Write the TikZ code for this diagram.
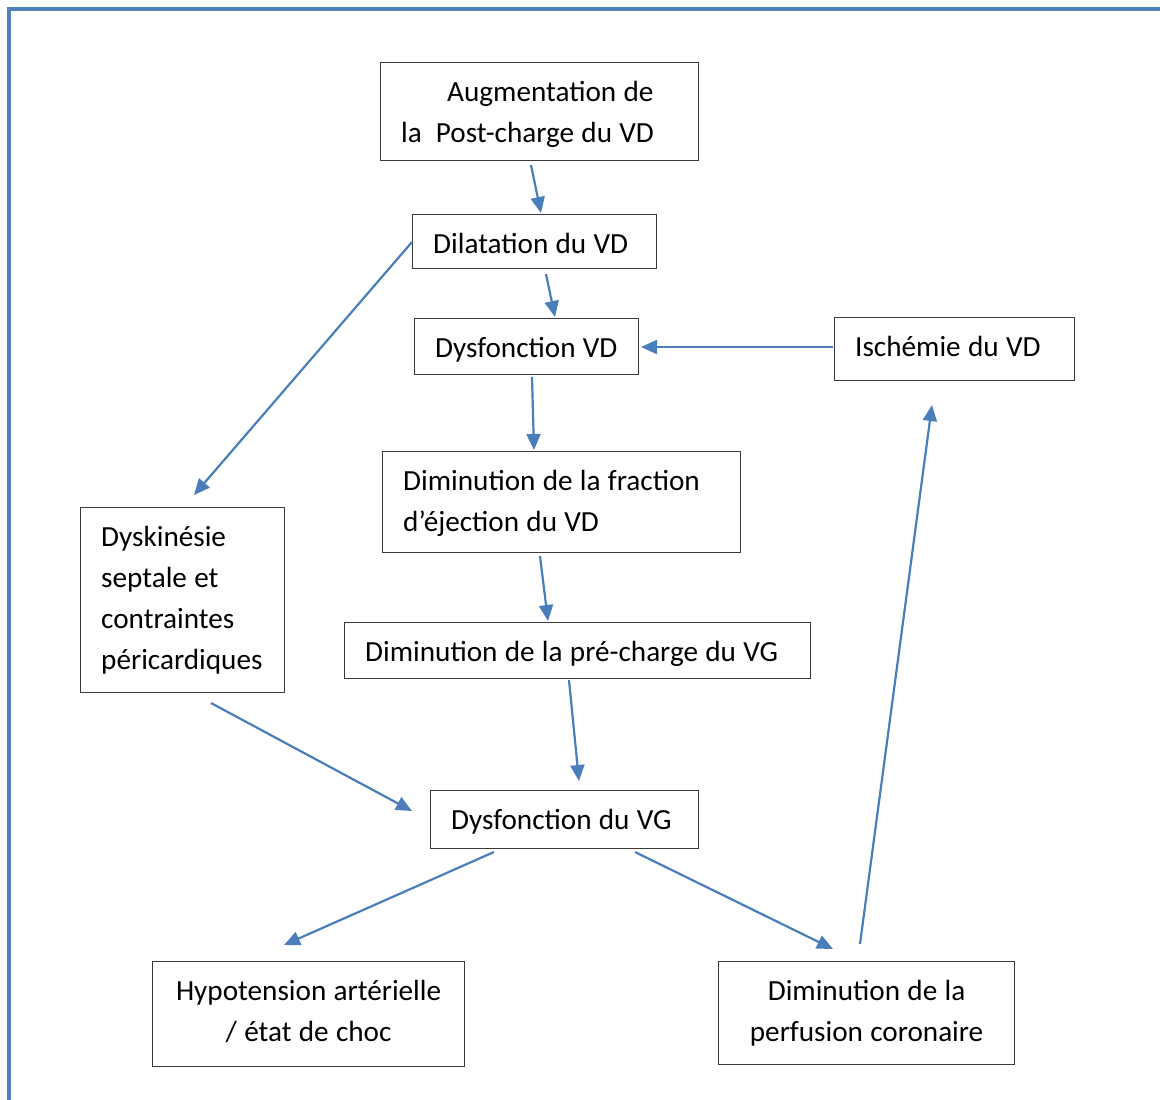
\documentclass[tikz,border=0pt]{standalone}
\usepackage{fontspec}
\setmainfont{Carlito}
\usetikzlibrary{arrows.meta}
\definecolor{frameblue}{HTML}{4F81BD}
\definecolor{arrblue}{HTML}{4A7EBB}
\definecolor{boxgray}{HTML}{3A3A3A}
\newcommand\boxtextfont{\fontsize{29.2}{41}\selectfont\spaceskip=7.3pt\relax}
\begin{document}
\begin{tikzpicture}[x=1pt,y=-1pt,
  box/.style={draw=boxgray, line width=1.2pt, inner sep=0pt, anchor=north west},
  txt/.style={inner sep=0pt, anchor=north west, align=left, font=\boxtextfont},
  ctxt/.style={txt, anchor=north, align=center},
  arr/.style={draw=arrblue, line width=2.2pt, -{Triangle[length=16pt,width=14pt]}}]
\useasboundingbox (0,0) rectangle (1160,1100);
% frame
\draw[frameblue, line width=3.2pt] (9,1102) -- (9,9) -- (1162,9);
% boxes
\node[box, minimum width=318pt, minimum height=98pt] (aug) at (380,62) {};
\node[box, minimum width=244pt, minimum height=54pt] (dil) at (412,214) {};
\node[box, minimum width=224pt, minimum height=56pt] (dysvd) at (414,318) {};
\node[box, minimum width=240pt, minimum height=63pt] (isch) at (834,317) {};
\node[box, minimum width=358pt, minimum height=101pt] (fe) at (382,451) {};
\node[box, minimum width=204pt, minimum height=185pt] (dysk) at (80,507) {};
\node[box, minimum width=466pt, minimum height=56pt] (prech) at (344,622) {};
\node[box, minimum width=268pt, minimum height=58pt] (dysvg) at (430,790) {};
\node[box, minimum width=312pt, minimum height=105pt] (hypo) at (152,961) {};
\node[box, minimum width=296pt, minimum height=103pt] (perf) at (718,961) {};
% texts
\node[txt] (aug-t) at ([shift={(21,10.3)}]aug.north west)
  {\strut\hspace*{46pt}Augmentation de\\la\hspace*{14pt}Post-charge du VD};
\node[txt] (dil-t) at ([shift={(21,10.3)}]dil.north west) {\strut Dilatation du VD};
\node[txt] (dysvd-t) at ([shift={(21,10.3)}]dysvd.north west) {\strut Dysfonction VD};
\node[txt] (isch-t) at ([shift={(21,10.3)}]isch.north west) {\strut Ischémie du VD};
\node[txt] (fe-t) at ([shift={(21,10.3)}]fe.north west)
  {\strut Diminution de la fraction\\d’éjection du VD};
\node[txt] (dysk-t) at ([shift={(21,10.3)}]dysk.north west)
  {\strut Dyskinésie\\septale et\\contraintes\\péricardiques};
\node[txt] (prech-t) at ([shift={(21,10.3)}]prech.north west)
  {\strut Diminution de la pré-charge du VG};
\node[txt] (dysvg-t) at ([shift={(21,10.3)}]dysvg.north west) {\strut Dysfonction du VG};
\node[ctxt] (hypo-t) at ([shift={(0,10.3)}]hypo.north)
  {\strut Hypotension artérielle\\/ état de choc};
\node[ctxt] (perf-t) at ([shift={(0,10.3)}]perf.north)
  {\strut Diminution de la\\perfusion coronaire};
% connector end points
\coordinate (a1) at (531,165); \coordinate (b1) at (541,213);
\coordinate (a2) at (546,274); \coordinate (b2) at (555,317);
\coordinate (a3) at (833,347); \coordinate (b3) at (641,347);
\coordinate (a4) at (532,377); \coordinate (b4) at (534,450);
\coordinate (a5) at (412,242); \coordinate (b5) at (194,495);
\coordinate (a6) at (540,556); \coordinate (b6) at (548,621);
\coordinate (a7) at (569,680); \coordinate (b7) at (579,781);
\coordinate (a8) at (211,703); \coordinate (b8) at (412,811);
\coordinate (a9) at (494,852); \coordinate (b9) at (284,945);
\coordinate (a10) at (635,852); \coordinate (b10) at (833,949);
\coordinate (a11) at (860,944); \coordinate (b11) at (932,405);
% connectors
\foreach \i in {1,...,11} \draw[arr] (a\i) -- (b\i);
\end{tikzpicture}
\end{document}
